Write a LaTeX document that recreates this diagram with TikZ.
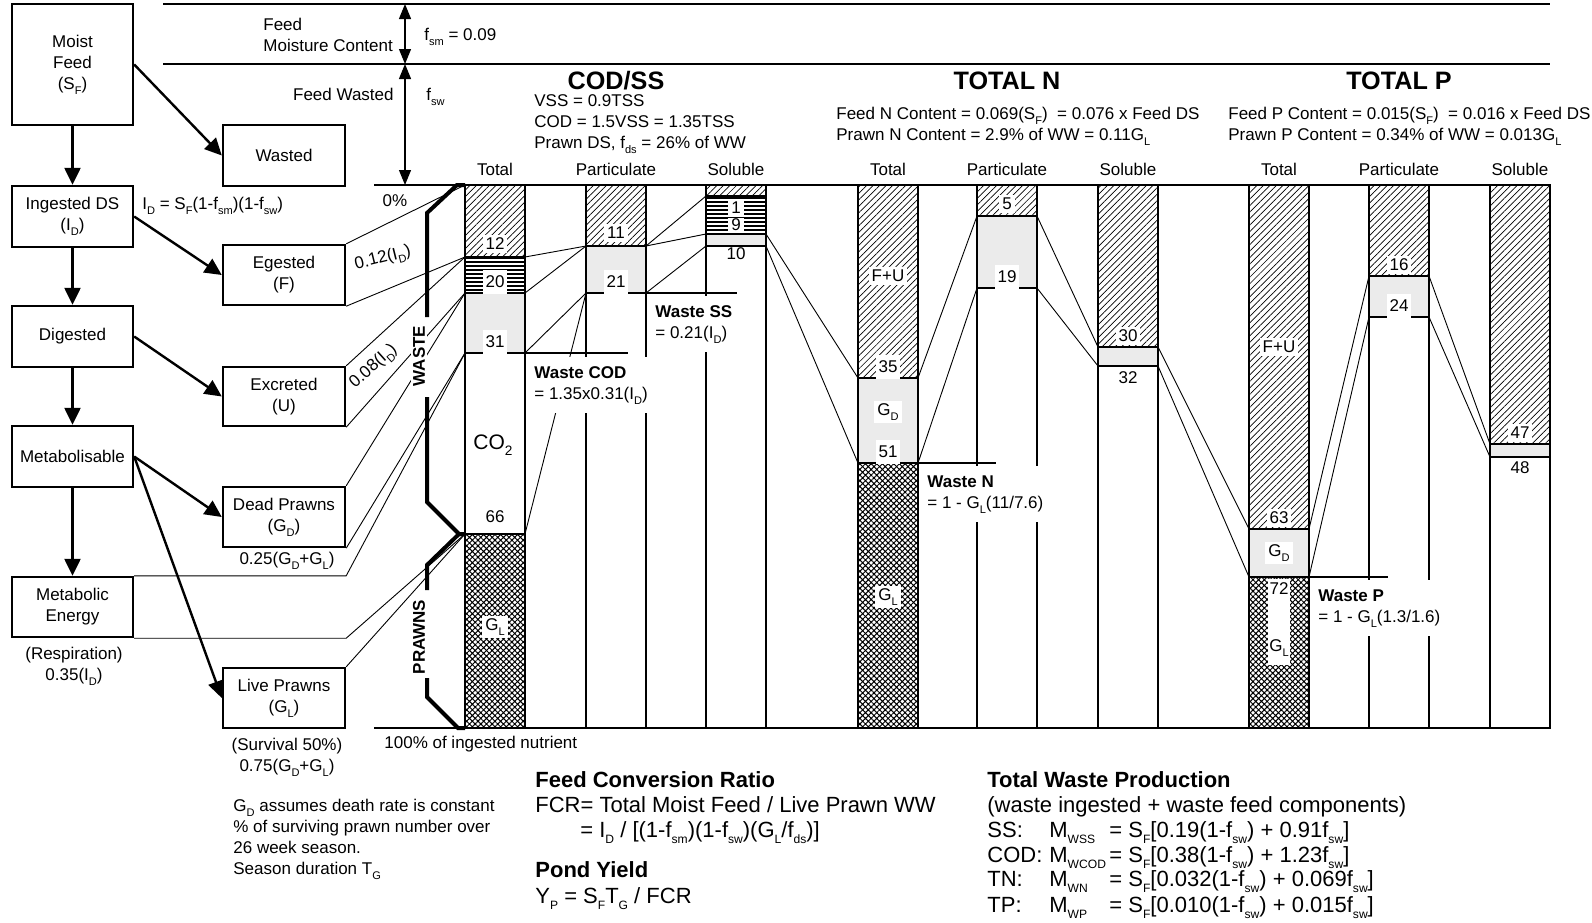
\documentclass[tikz,border=0pt]{standalone}
\usepackage{fontspec}
\setmainfont{Liberation Sans}
\usetikzlibrary{arrows.meta,patterns.meta}

\newcommand{\lo}[1]{\raisebox{-0.3em}{\scalebox{0.65}{#1}}}
\newcommand{\los}[1]{\raisebox{-0.3em}{\scalebox{0.55}{#1}}}

\tikzset{
  box/.style={draw,line width=1.2pt,align=center,inner sep=0pt,minimum width=60.5pt,minimum height=30.5pt},
  flow/.style={-{Triangle[length=8.5pt,width=8pt]},line width=1.2pt},
  span/.style={{Triangle[length=7.5pt,width=6pt]}-{Triangle[length=7.5pt,width=6pt]},line width=0.6pt},
  link/.style={line width=0.45pt},
  rule/.style={line width=0.6pt},
  brace/.style={line width=2pt},
  wline/.style={line width=1.4pt},
  segH/.style={draw,line width=0.6pt,pattern={Lines[angle=45,distance=2.3pt,line width=0.35pt]}},
  segL/.style={draw,line width=0.6pt,pattern={Lines[angle=0,distance=2pt,line width=0.7pt]}},
  segD/.style={draw,line width=0.6pt,fill=black!8},
  segW/.style={draw,line width=0.6pt},
  segX/.style={draw,line width=0.6pt,pattern={Hatch[angle=45,distance=2pt,line width=0.5pt]}},
  num/.style={fill=white,inner xsep=1.5pt,inner ysep=1.5pt},
  numgap/.style={fill=white,inner xsep=1.5pt,inner ysep=3pt},
  wlabel/.style={fill=white,align=left,anchor=north west,inner xsep=4pt,inner ysep=4.5pt},
  title/.style={font=\fontsize{12.6}{14}\selectfont\bfseries},
  big/.style={font=\fontsize{11}{13}\selectfont},
}

\begin{document}
\begin{tikzpicture}[x=0.5pt,y=-0.5pt,font=\fontsize{8.5}{10.5}\selectfont,every node/.append style={inner sep=0pt}]
  \useasboundingbox (0,0) rectangle (1592,922);

  % flow boxes
  \node[box,minimum height=60.5pt] (feed) at (72.5,64.5) {Moist\\Feed\\(S\lo{F})};
  \node[box] (ingest) at (72.5,216.5) {Ingested DS\\(I\lo{D})};
  \node[box] (digest) at (72.5,336.5) {Digested};
  \node[box] (metab) at (72.5,456.5) {Metabolisable};
  \node[box,minimum height=30pt] (energy) at (72.5,607) {Metabolic\\Energy};
  \node[box,minimum width=61pt] (wasted) at (284,155.5) {Wasted};
  \node[box,minimum width=61pt,minimum height=30pt] (egest) at (284,275) {Egested\\(F)};
  \node[box,minimum width=61pt,minimum height=29.5pt] (excret) at (284,396.5) {Excreted\\(U)};
  \node[box,minimum width=61pt,minimum height=30pt] (dead) at (284,517) {Dead Prawns\\(G\lo{D})};
  \node[box,minimum width=61pt,minimum height=30pt] (live) at (284,698) {Live Prawns\\(G\lo{L})};

  \draw[flow] (feed) -- (ingest);
  \draw[flow] (feed.east) -- (wasted.west);
  \draw[flow] (ingest) -- (digest);
  \draw[flow] (ingest.east) -- (egest.west);
  \draw[flow] (digest) -- (metab);
  \draw[flow] (digest.east) -- (excret.west);
  \draw[flow] (metab) -- (energy);
  \draw[flow] (metab.east) -- (dead.west);
  \draw[flow] (metab.east) -- (live.west);

  % frame lines
  \coordinate (top0) at (163,4);   \coordinate (top0r) at (1550,4);
  \coordinate (top1) at (163,64);  \coordinate (top1r) at (1550,64);
  \coordinate (base0) at (374,185); \coordinate (base0r) at (1550,185);
  \coordinate (base1) at (374,728); \coordinate (base1r) at (1550,728);
  \draw[rule] (top0) -- (top0r);
  \draw[rule] (top1) -- (top1r);
  \draw[rule] (base0) -- (base0r);
  \draw[rule] (base1) -- (base1r);
  \coordinate (fa) at (405,4); \coordinate (fb) at (405,64); \coordinate (fc) at (405,185);
  \draw[span] (fa) -- (fb);
  \draw[span] (fb) -- (fc);

  % bar segments
  \foreach \xa/\ya/\yb/\sty in {
      465/185/257/segH, 465/257/293/segL, 465/293/353/segD, 465/353/534/segW, 465/534/728/segX,
      586/185/246/segH, 586/246/293/segD, 586/293/728/segW,
      706/185/196/segH, 706/196/234/segL, 706/234/246/segD, 706/246/728/segW,
      858/185/378/segH, 858/378/463/segD, 858/463/728/segX,
      977/185/216/segH, 977/216/288/segD, 977/288/728/segW,
      1098/185/347/segH, 1098/347/366/segD, 1098/366/728/segW,
      1249/185/529/segH, 1249/529/577/segD, 1249/577/728/segX,
      1369/185/276/segH, 1369/276/317/segD, 1369/317/728/segW,
      1490/185/444/segH, 1490/444/457/segD, 1490/457/728/segW}
    \path[\sty] (\xa,\ya) rectangle (\xa+60,\yb);

  % boundary points
  \coordinate (ct0) at (465,185);
  \coordinate (ct12) at (465,257); \coordinate (ct12r) at (525,257);
  \coordinate (ct20) at (465,293); \coordinate (ct20r) at (525,293);
  \coordinate (ct31) at (465,353); \coordinate (ct31r) at (525,353);
  \coordinate (ct66) at (465,534); \coordinate (ct66r) at (525,534);
  \coordinate (cp11) at (586,246); \coordinate (cp11r) at (646,246);
  \coordinate (cp21) at (586,293); \coordinate (cp21r) at (646,293);
  \coordinate (cs1) at (706,196);
  \coordinate (cs9) at (706,234);  \coordinate (cs9r) at (766,234);
  \coordinate (cs10) at (706,246); \coordinate (cs10r) at (766,246);
  \coordinate (nt35) at (858,378); \coordinate (nt35r) at (918,378);
  \coordinate (nt51) at (858,463); \coordinate (nt51r) at (918,463);
  \coordinate (np5) at (977,216);  \coordinate (np5r) at (1037,216);
  \coordinate (np19) at (977,288); \coordinate (np19r) at (1037,288);
  \coordinate (ns30) at (1098,347); \coordinate (ns30r) at (1158,347);
  \coordinate (ns32) at (1098,366); \coordinate (ns32r) at (1158,366);
  \coordinate (pt63) at (1249,529); \coordinate (pt63r) at (1309,529);
  \coordinate (pt72) at (1249,577); \coordinate (pt72r) at (1309,577);
  \coordinate (pp16) at (1369,276); \coordinate (pp16r) at (1429,276);
  \coordinate (pp24) at (1369,317); \coordinate (pp24r) at (1429,317);
  \coordinate (ps47) at (1490,444);
  \coordinate (ps48) at (1490,457);

  % boxes to total bar
  \draw[link] (egest.north east) -- (ct0);
  \draw[link] (egest.south east) -- (ct12);
  \draw[link] (excret.north east) -- (ct12);
  \draw[link] (excret.south east) -- (ct20);
  \draw[link] (dead.north east) -- (ct20);
  \draw[link] (dead.south east) -- (ct31);
  \draw[link] (energy.north east) -- (energy.north east -| dead.east) -- (ct31);
  \draw[link] (energy.south east) -- (energy.south east -| dead.east) -- (ct66);
  \draw[link] (live.north east) -- (ct66);

  % bar to bar
  \draw[link] (ct12r) -- (cp11);  \draw[link] (ct20r) -- (cp11);
  \draw[link] (ct31r) -- (cp21);  \draw[link] (cp21) -- (ct66r);
  \draw[link] (cp11r) -- (cs1);   \draw[link] (cp11r) -- (cs9);
  \draw[link] (cp21r) -- (cs10);
  \draw[link] (cs9r) -- (nt35);   \draw[link] (cs10r) -- (nt51);
  \draw[link] (nt35r) -- (np5);   \draw[link] (nt51r) -- (np19);
  \draw[link] (np5r) -- (ns30);   \draw[link] (np19r) -- (ns32);
  \draw[link] (ns30r) -- (pt63);  \draw[link] (ns32r) -- (pt72);
  \draw[link] (pt63r) -- (pp16);  \draw[link] (pt72r) -- (pp24);
  \draw[link] (pp16r) -- (ps47);  \draw[link] (pp24r) -- (ps48);

  % waste lines
  \coordinate (wcod) at (628,353); \coordinate (wss) at (737,293);
  \coordinate (wn) at (996,463);   \coordinate (wp) at (1388,577);
  \draw[wline] (ct31r) -- (wcod);
  \draw[wline] (cp21r) -- (wss);
  \draw[wline] (nt51r) -- (wn);
  \draw[wline] (pt72r) -- (wp);

  % bar labels
  \node[num] (l12) at (495,244) {12};
  \node[numgap] (l20) at (495,282) {20};
  \node[numgap] (l31) at (495,342) {31};
  \node (l66) at (495,517) {66};
  \node[font=\fontsize{10.5}{12}\selectfont] (lco) at (493,445) {CO\lo{2}};
  \node[num] (lgl1) at (495,627) {G\lo{L}};
  \node[num] (l11) at (616,233) {11};
  \node[numgap] (l21) at (616,282) {21};
  \node[fill=white,inner xsep=1.5pt,inner ysep=0.5pt] (l1) at (736,208) {1};
  \node[fill=white,inner xsep=1.5pt,inner ysep=0.5pt] (l9) at (736,225) {9};
  \node (l10) at (736,254) {10};
  \node[num] (lfu1) at (888,276) {F+U};
  \node[numgap] (l35) at (888,367) {35};
  \node[num] (lgd1) at (888,412) {G\lo{D}};
  \node[numgap] (l51) at (888,452) {51};
  \node[num] (lgl2) at (888,597) {G\lo{L}};
  \node[num] (l5) at (1007,204) {5};
  \node[numgap] (l19) at (1007,277) {19};
  \node[num] (l30) at (1128,336) {30};
  \node (l32) at (1128,378) {32};
  \node[num] (lfu2) at (1279,347) {F+U};
  \node[num] (l63) at (1279,518) {63};
  \node[num] (lgd2) at (1279,553) {G\lo{D}};
  \fill[white] (1268,579) rectangle (1290,665);
  \node (l72) at (1279,589) {72};
  \node (lgl3) at (1279,648) {G\lo{L}};
  \node[num] (l16) at (1399,265) {16};
  \node[numgap] (l24) at (1399,306) {24};
  \node[num] (l47) at (1520,433) {47};
  \node (l48) at (1520,468) {48};

  \node[wlabel] (lwcod) at (526,357) {\textbf{Waste COD}\\=~1.35x0.31(I\lo{D})};
  \node[wlabel] (lwss) at (647,296) {\textbf{Waste SS}\\=~0.21(I\lo{D})};
  \node[wlabel] (lwn) at (919,466) {\textbf{Waste N}\\=~1~-~G\lo{L}(11/7.6)};
  \node[wlabel] (lwp) at (1310,580) {\textbf{Waste P}\\=~1~-~G\lo{L}(1.3/1.6)};

  % waste / prawns brackets
  \node[rotate=90,fill=white,inner sep=1pt,font=\fontsize{8.5}{10}\selectfont\bfseries] (bwaste) at (419,356) {WASTE};
  \node[rotate=90,fill=white,inner sep=1pt,font=\fontsize{8.5}{10}\selectfont\bfseries] (bprawn) at (419,637) {PRAWNS};
  \draw[brace] (ct0) -- (457,185) -- (427,213) -- (427,317);
  \draw[brace] (427,397) -- (427,502) -- (459,534) -- (ct66);
  \draw[brace] (ct66) -- (459,534) -- (427,565) -- (427,590);
  \draw[brace] (427,678) -- (427,697) -- (458,728) -- (465,728);

  % headings
  \node[title,anchor=base] (tcod) at (616,89) {COD/SS};
  \node[title,anchor=base] (tn) at (1007,89) {TOTAL N};
  \node[title,anchor=base] (tp) at (1399,89) {TOTAL P};
  \foreach \x/\t in {495/Total,616/Particulate,736/Soluble,888/Total,1007/Particulate,1128/Soluble,1279/Total,1399/Particulate,1520/Soluble}
    \node[anchor=base] (h\x) at (\x,175) {\t};
  \node[anchor=north west,align=left] (codinfo) at (534,94)
    {VSS = 0.9TSS\\COD = 1.5VSS = 1.35TSS\\Prawn DS, f\lo{ds} = 26\% of WW};
  \node[anchor=north west,align=left] (ninfo) at (836,107)
    {Feed N Content = 0.069(S\lo{F})\ \ = 0.076 x Feed DS\\Prawn N Content = 2.9\% of WW = 0.11G\lo{L}};
  \node[anchor=north west,align=left] (pinfo) at (1228,107)
    {Feed P Content = 0.015(S\lo{F})\ \ = 0.016 x Feed DS\\Prawn P Content = 0.34\% of WW = 0.013G\lo{L}};

  % feed texts
  \node[anchor=base west] (tfeed) at (263,30) {Feed};
  \node[anchor=base west] (tmoist) at (263,51) {Moisture Content};
  \node[anchor=base west] (tfsm) at (424,40) {f\lo{sm} = 0.09};
  \node[anchor=base east] (twasted) at (394,100) {Feed Wasted};
  \node[anchor=base west] (tfsw) at (426,100) {f\lo{sw}};
  \node[anchor=base] (p0) at (395,206) {0\%};
  \node[anchor=base west] (p100) at (384,748) {100\% of ingested nutrient};

  % side notes
  \node[anchor=base west] (idform) at (142,209) {I\lo{D} = S\lo{F}(1-f\lo{sm})(1-f\lo{sw})};
  \node[rotate=14] (r12) at (383,259) {0.12(I\lo{D})};
  \node[rotate=42] (r08) at (374,367) {0.08(I\lo{D})};
  \node (r25) at (287,561) {0.25(G\lo{D}+G\lo{L})};
  \node[align=center] (resp) at (74,666) {(Respiration)\\0.35(I\lo{D})};
  \node[align=center] (surv) at (287,757) {(Survival 50\%)\\0.75(G\lo{D}+G\lo{L})};
  \node[anchor=north west,align=left] (note) at (233,799)
    {G\lo{D} assumes death rate is constant\\\% of surviving prawn number over\\26 week season.\\Season duration T\lo{G}};

  % bottom formulas
  \node[big,anchor=base west] (fcrh) at (535,787) {\textbf{Feed Conversion Ratio}};
  \node[big,anchor=base west] (fcr1) at (535,812) {FCR=~Total Moist Feed / Live Prawn WW};
  \node[big,anchor=base west] (fcr2) at (580,837) {= I\los{D} / [(1-f\los{sm})(1-f\los{sw})(G\los{L}/f\los{ds})]};
  \node[big,anchor=base west] (yh) at (535,877) {\textbf{Pond Yield}};
  \node[big,anchor=base west] (y1) at (535,903) {Y\los{P} = S\los{F}T\los{G} / FCR};
  \node[big,anchor=base west] (twh) at (987,787) {\textbf{Total Waste Production}};
  \node[big,anchor=base west] (tw0) at (987,812) {(waste ingested + waste feed components)};
  \foreach \y/\k/\m/\f in {837/SS:/WSS/0.19(1-f\los{sw}) + 0.91f\los{sw},
                           862/COD:/WCOD/0.38(1-f\los{sw}) + 1.23f\los{sw},
                           886/TN:/WN/0.032(1-f\los{sw}) + 0.069f\los{sw},
                           912/TP:/WP/0.010(1-f\los{sw}) + 0.015f\los{sw}} {
    \node[big,anchor=base west] (k\y) at (987,\y) {\k};
    \node[big,anchor=base west] (m\y) at (1049,\y) {M\los{\m}};
    \node[big,anchor=base west] (e\y) at (1109,\y) {= S\los{F}[\f]};
  }
\end{tikzpicture}
\end{document}
